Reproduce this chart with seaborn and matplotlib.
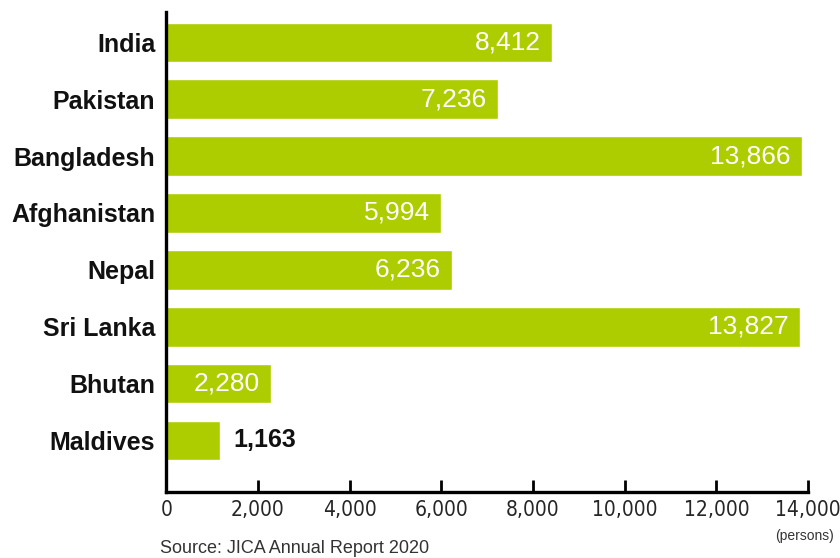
import pandas as pd
import matplotlib
matplotlib.use("Agg")
import matplotlib.pyplot as plt
from matplotlib import font_manager
import seaborn as sns

countries = ["India", "Pakistan", "Bangladesh", "Afghanistan", "Nepal",
             "Sri Lanka", "Bhutan", "Maldives"]
persons = [8412, 7236, 13866, 5994, 6236, 13827, 2280, 1163]
tick_values = [0, 2000, 4000, 6000, 8000, 10000, 12000, 14000]

BAR = "#AECD00"

sns.set_theme(style="white")
plt.rcParams["font.family"] = ["Liberation Sans", "DejaVu Sans"]

# condensed face for the axis numbers, if there is one
names = {f.name for f in font_manager.fontManager.ttflist}
if "Liberation Sans Narrow" in names:
    tick_font = dict(family="Liberation Sans Narrow", fontsize=17)
elif "DejaVu Sans Condensed" in names or any(
        f.name == "DejaVu Sans" and f.stretch == "condensed"
        for f in font_manager.fontManager.ttflist):
    tick_font = dict(family="DejaVu Sans", fontstretch="condensed", fontsize=15)
else:
    tick_font = dict(family="Liberation Sans", fontsize=16)

df = pd.DataFrame({"country": countries, "persons": persons})

fig = plt.figure(figsize=(8.4, 5.58), dpi=100)
ax = fig.add_axes([0.198, 0.118, 0.764, 0.860])

sns.barplot(data=df, x="persons", y="country", orient="h", color=BAR,
            saturation=1, width=0.7, ax=ax)

ax.set_xlim(0, 14000)
ax.set_ylim(7.91, -0.53)
ax.set_xlabel("")
ax.set_ylabel("")

for side in ["top", "right"]:
    ax.spines[side].set_visible(False)
for side in ["left", "bottom"]:
    ax.spines[side].set_color("black")
    ax.spines[side].set_linewidth(2.4)

ax.set_xticks(tick_values)
ax.set_xticklabels([f"{v:,}" for v in tick_values], **tick_font)
ax.tick_params(axis="x", direction="in", length=9, width=2, color="black",
               pad=6, bottom=True)
ax.tick_params(axis="y", length=0, pad=8)
for lab in ax.get_yticklabels():
    lab.set_fontsize(18)
    lab.set_fontweight("bold")
    lab.set_color("#111111")

# value labels
for i, v in enumerate(persons):
    if v > 2000:
        ax.text(v - 250, i, f"{v:,}", ha="right", va="center",
                color="white", fontsize=19)
    else:
        ax.text(v + 300, i, f"{v:,}", ha="left", va="center",
                color="#111111", fontsize=18, fontweight="bold")

fig.text(0.958, 0.040, "(persons)", ha="center", va="center", fontsize=10,
         color="#333333")
fig.text(0.190, 0.017, "Source: JICA Annual Report 2020", ha="left",
         va="center", fontsize=13, color="#333333")

fig.savefig("out.png", dpi=100)
